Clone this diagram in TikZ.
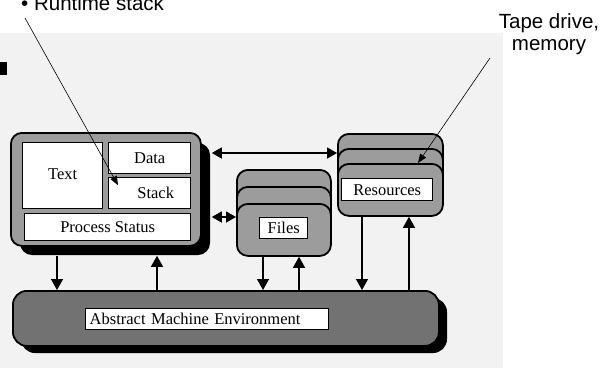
\documentclass[tikz,border=0pt]{standalone}
\usepackage{fontspec}
\setmainfont{Liberation Serif}
\newfontfamily\callfont{Liberation Sans}
\usetikzlibrary{arrows.meta,calc}
\definecolor{scanbg}{HTML}{F2F2F2}
\definecolor{boxgray}{HTML}{9C9C9C}
\definecolor{bargray}{HTML}{727272}
\tikzset{
  panel/.style={draw, line width=1.8pt, fill=boxgray, rounded corners=11pt, anchor=north west, inner sep=0pt},
  label box/.style={draw, line width=1.4pt, fill=white, anchor=north west, inner sep=0pt, font=\fontsize{16.5}{18}\selectfont},
  shadowfill/.style={fill=black, rounded corners=12pt},
  arr/.style={line width=1.3pt, -{Triangle[length=11pt,width=12pt]}},
  darr/.style={line width=1.3pt, {Triangle[length=10pt,width=11pt]}-{Triangle[length=10pt,width=11pt]}},
  callout/.style={font=\callfont\fontsize{20.5}{22}\selectfont},
  pointer/.style={line width=0.6pt, -{Triangle[length=9pt,width=7pt]}}
}
\begin{document}
\begin{tikzpicture}[x=1pt,y=-1pt]
\useasboundingbox (0,0) rectangle (605,368);
\fill[scanbg] (0,33) rectangle (503,368);
\fill[black] (0,62) rectangle (7,75);

% process
\fill[shadowfill] (20,143) rectangle (210,255);
\node[panel, minimum width=190, minimum height=113] (proc) at (10,132) {};
\node[label box, minimum width=80, minimum height=66] (text) at (22,142) {\raisebox{3pt}{Text}};
\node[label box, minimum width=82, minimum height=31] (data) at (108,142) {Data};
\node[label box, minimum width=82, minimum height=31] (stack) at (108,177) {\hspace*{12pt}Stack};
\node[label box, minimum width=166, minimum height=27] (status) at (24,213) {Process Status};

% files
\node[panel, minimum width=94, minimum height=56] (f1) at (236,169) {};
\node[panel, minimum width=94, minimum height=54] (f2) at (236,186) {};
\node[panel, minimum width=94, minimum height=52] (f3) at (236,203) {};
\node[label box, minimum width=48, minimum height=21] (files) at (259,217) {Files};

% resources
\node[panel, minimum width=105, minimum height=52] (r1) at (337,133) {};
\node[panel, minimum width=105, minimum height=52] (r2) at (337,148) {};
\node[panel, minimum width=105, minimum height=52] (r3) at (337,163) {};
\node[label box, minimum width=91, minimum height=22] (res) at (341,178) {Resources};

% abstract machine
\fill[shadowfill, rounded corners=14pt] (21,298) rectangle (447,353);
\node[panel, fill=bargray, rounded corners=14pt, minimum width=426, minimum height=55] (bar) at (12,290) {};
\node[label box, text width=235pt, align=left, inner xsep=4pt, minimum height=21] (ame) at (85,308) {Abstract Machine Environment};

% horizontal double arrows
\draw[darr] ($(proc.east |- 0,153)+(10,0)$) -- (r1.west |- 0,153);
\draw[darr] ($(proc.east |- 0,217)+(10,0)$) -- (f3.west |- 0,217);

% vertical arrows
\draw[arr] ($(proc.south -| 57,0)+(0,9)$) -- (bar.north -| 57,0);
\draw[arr] (bar.north -| 157,0) -- ($(proc.south -| 157,0)+(0,9)$);
\draw[arr] (f3.south -| 263,0) -- (bar.north -| 263,0);
\draw[arr] (bar.north -| 299,0) -- (f3.south -| 299,0);
\draw[arr] (r3.south -| 362,0) -- (bar.north -| 362,0);
\draw[arr] (bar.north -| 409,0) -- (r3.south -| 409,0);

% callouts
\node[callout, anchor=base west, inner sep=0pt] (rt) at (21,10) {• Runtime stack};
\coordinate (rtfoot) at (25,18);
\draw[pointer] (rtfoot) -- ($(stack.west)+(10,-8)$);
\node[callout, align=center, anchor=north, inner sep=0pt] (tape) at (549,13) {Tape drive,\\memory};
\coordinate (tapefoot) at (490,58);
\draw[pointer] (tapefoot) -- ($(r3.north west)+(81,0)$);
\end{tikzpicture}
\end{document}
